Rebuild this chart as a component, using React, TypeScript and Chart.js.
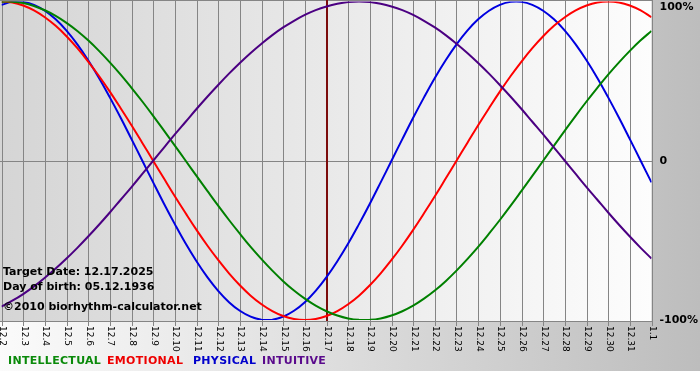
import React, { useEffect, useRef } from "react";
import { Chart, registerables } from "chart.js";

Chart.register(...registerables);

// one tick per day, 12.2 .. 1.1
const dayLabels = [
  "12.2", "12.3", "12.4", "12.5", "12.6", "12.7", "12.8", "12.9", "12.10", "12.11",
  "12.12", "12.13", "12.14", "12.15", "12.16", "12.17", "12.18", "12.19", "12.20", "12.21",
  "12.22", "12.23", "12.24", "12.25", "12.26", "12.27", "12.28", "12.29", "12.30", "12.31", "1.1",
];

// readings every half day (percent), starting at 12.2
const physical = [97.9, 99.8, 99.8, 97.9, 94.2, 88.8, 81.7, 73.1, 63.1, 52.0, 39.8, 27.0, 13.6, 0, -13.6, -27.0, -39.8, -52.0, -63.1, -73.1, -81.7, -88.8, -94.2, -97.9, -99.8, -99.8, -97.9, -94.2, -88.8, -81.7, -73.1, -63.1, -52.0, -39.8, -27.0, -13.6, 0, 13.6, 27.0, 39.8, 52.0, 63.1, 73.1, 81.7, 88.8, 94.2, 97.9, 99.8, 99.8, 97.9, 94.2, 88.8, 81.7, 73.1, 63.1, 52.0, 39.8, 27.0, 13.6, 0, -13.6];
const emotional = [100, 99.4, 97.5, 94.4, 90.1, 84.7, 78.2, 70.7, 62.3, 53.2, 43.4, 33.0, 22.3, 11.2, 0, -11.2, -22.3, -33.0, -43.4, -53.2, -62.3, -70.7, -78.2, -84.7, -90.1, -94.4, -97.5, -99.4, -100, -99.4, -97.5, -94.4, -90.1, -84.7, -78.2, -70.7, -62.3, -53.2, -43.4, -33.0, -22.3, -11.2, 0, 11.2, 22.3, 33.0, 43.4, 53.2, 62.3, 70.7, 78.2, 84.7, 90.1, 94.4, 97.5, 99.4, 100, 99.4, 97.5, 94.4, 90.1];
const intellectual = [99.9, 99.9, 99.0, 97.2, 94.5, 91.0, 86.6, 81.5, 75.6, 69.0, 61.8, 54.1, 45.8, 37.2, 28.2, 18.9, 9.5, 0, -9.5, -18.9, -28.2, -37.2, -45.8, -54.1, -61.8, -69.0, -75.6, -81.5, -86.6, -91.0, -94.5, -97.2, -99.0, -99.9, -99.9, -99.0, -97.2, -94.5, -91.0, -86.6, -81.5, -75.6, -69.0, -61.8, -54.1, -45.8, -37.2, -28.2, -18.9, -9.5, 0, 9.5, 18.9, 28.2, 37.2, 45.8, 54.1, 61.8, 69.0, 75.6, 81.5];
const intuitive = [-91.6, -87.9, -83.7, -78.9, -73.5, -67.7, -61.4, -54.7, -47.6, -40.2, -32.5, -24.5, -16.5, -8.3, 0, 8.3, 16.5, 24.5, 32.5, 40.2, 47.6, 54.7, 61.4, 67.7, 73.5, 78.9, 83.7, 87.9, 91.6, 94.6, 96.9, 98.6, 99.7, 100, 99.7, 98.6, 96.9, 94.6, 91.6, 87.9, 83.7, 78.9, 73.5, 67.7, 61.4, 54.7, 47.6, 40.2, 32.5, 24.5, 16.5, 8.3, 0, -8.3, -16.5, -24.5, -32.5, -40.2, -47.6, -54.7, -61.4];

const targetLabel = "12.17";
const yTicks = [100, 0, -100];
const yTickText = ["100%", "0", "-100%"];
const infoLines = ["Target Date: 12.17.2025", "Day of birth: 05.12.1936", "\u00a92010 biorhythm-calculator.net"];
const legendNames = ["INTELLECTUAL", "EMOTIONAL", "PHYSICAL", "INTUITIVE"];
const legendColors = ["#0a8a0a", "#ee0000", "#0000cc", "#5a0a8c"];

const COL_INT = "#008000";
const COL_EMO = "#ff0000";
const COL_PHY = "#0000e0";
const COL_INU = "#4b0082";

const halfDay = (vals: number[]) => vals.map((v, i) => ({ x: i / 2, y: v }));

const backgroundPlugin = {
  id: "bioBackground",
  beforeDraw(chart: any) {
    const ctx = chart.ctx as CanvasRenderingContext2D;
    const { right, bottom } = chart.chartArea;
    const W = chart.width;
    ctx.save();
    ctx.fillStyle = "#ffffff";
    ctx.fillRect(0, 0, W, chart.height);
    const g = ctx.createLinearGradient(0, 0, W, 0);
    g.addColorStop(0, "#fbfbfb");
    g.addColorStop(1, "#bdbdbd");
    ctx.fillStyle = g;
    ctx.fillRect(0, 0, W, 371);
    const g2 = ctx.createLinearGradient(0, 0, right, 0);
    g2.addColorStop(0, "#d5d5d5");
    g2.addColorStop(1, "#fdfdfd");
    ctx.fillStyle = g2;
    ctx.fillRect(0, 0, right, bottom + 1);

    const xs = chart.scales.x;
    const ys = chart.scales.y;
    ctx.strokeStyle = "#858585";
    ctx.lineWidth = 1;
    dayLabels.forEach((_, i) => {
      const x = Math.round(xs.getPixelForValue(i)) + 0.5;
      ctx.beginPath();
      ctx.moveTo(x, 0);
      ctx.lineTo(x, bottom + 6);
      ctx.stroke();
    });
    const y0 = Math.round(ys.getPixelForValue(0)) + 0.5;
    ctx.beginPath();
    ctx.moveTo(0, y0);
    ctx.lineTo(right + 1, y0);
    ctx.stroke();
    ctx.beginPath();
    ctx.moveTo(0, 0.5);
    ctx.lineTo(right + 1, 0.5);
    ctx.stroke();
    ctx.beginPath();
    ctx.moveTo(0, Math.round(bottom) + 1.5);
    ctx.lineTo(right + 1, Math.round(bottom) + 1.5);
    ctx.stroke();

    const tx = xs.getPixelForValue(dayLabels.indexOf(targetLabel));
    ctx.strokeStyle = "#7c0c0c";
    ctx.lineWidth = 2;
    ctx.beginPath();
    ctx.moveTo(Math.round(tx), 0);
    ctx.lineTo(Math.round(tx), bottom + 1);
    ctx.stroke();
    ctx.restore();
  },
  afterDraw(chart: any) {
    const ctx = chart.ctx as CanvasRenderingContext2D;
    const { right, bottom } = chart.chartArea;
    const xs = chart.scales.x;
    const ys = chart.scales.y;
    ctx.save();
    ctx.fillStyle = "#000000";
    ctx.font = "9px 'DejaVu Sans'";
    ctx.textAlign = "left";
    ctx.textBaseline = "middle";
    dayLabels.forEach((lab, i) => {
      const x = xs.getPixelForValue(i);
      ctx.save();
      ctx.translate(x + 1, bottom + 6);
      ctx.rotate(Math.PI / 2);
      ctx.fillText(lab, 0, 0);
      ctx.restore();
    });
    ctx.font = "bold 11px 'DejaVu Sans'";
    yTicks.forEach((v, i) => {
      const y = ys.getPixelForValue(v);
      ctx.fillText(yTickText[i], right + 8, Math.min(Math.max(y, 7), bottom + 1));
    });
    ctx.fillText(infoLines[0], 3, 272);
    ctx.fillText(infoLines[1], 3, 287);
    ctx.fillText(infoLines[2], 3, 307);
    const legendX = [8, 107, 193, 262];
    (ctx as any).letterSpacing = "0.3px";
    legendNames.forEach((n, i) => {
      ctx.fillStyle = legendColors[i];
      ctx.fillText(n, legendX[i], 361);
    });
    ctx.restore();
  },
};

export default function App() {
  const ref = useRef<HTMLCanvasElement | null>(null);
  useEffect(() => {
    if (!ref.current) return;
    const ds = (label: string, data: number[], color: string) => ({
      label,
      data: halfDay(data),
      borderColor: color,
      backgroundColor: color,
      borderWidth: 2,
      pointRadius: 0,
      tension: 0.4,
      fill: false,
    });
    const chart = new Chart(ref.current, {
      type: "line",
      data: {
        datasets: [
          ds("INTUITIVE", intuitive, COL_INU),
          ds("INTELLECTUAL", intellectual, COL_INT),
          ds("EMOTIONAL", emotional, COL_EMO),
          ds("PHYSICAL", physical, COL_PHY),
        ],
      },
      options: {
        responsive: false,
        animation: false,
        devicePixelRatio: 1,
        parsing: false,
        layout: { padding: { left: 1.5, right: 48.5, top: 1.5, bottom: 60 } },
        plugins: { legend: { display: false }, tooltip: { enabled: false } },
        scales: {
          x: { type: "linear", display: false, min: 0, max: dayLabels.length - 1 },
          y: { type: "linear", display: false, min: -100, max: 100 },
        },
      },
      plugins: [backgroundPlugin],
    } as any);
    return () => chart.destroy();
  }, []);
  return (
    <div style={{ position: "fixed", left: 0, top: 0, width: 700, height: 380 }}>
      <canvas ref={ref} width={700} height={380} style={{ width: 700, height: 380, display: "block" }} />
    </div>
  );
}
